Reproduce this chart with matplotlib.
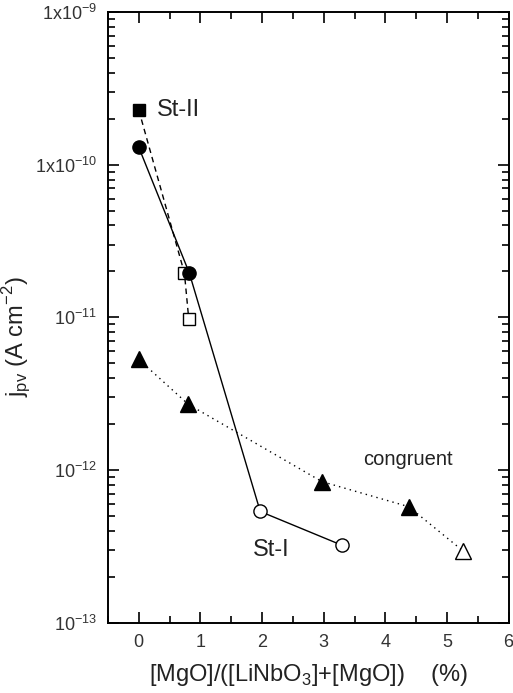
import matplotlib
matplotlib.use("Agg")
import matplotlib.pyplot as plt
from matplotlib.ticker import FixedLocator, LogLocator, MultipleLocator, NullFormatter

plt.rcParams['font.family'] = ['Liberation Sans', 'DejaVu Sans']
plt.rcParams['mathtext.fontset'] = 'custom'
plt.rcParams['mathtext.rm'] = 'Liberation Sans'

# St-II (stoichiometric, set II)
st2_x = [0.0, 0.74, 0.81]
st2_y = [2.28e-10, 1.95e-11, 9.8e-12]
st2_filled = [True, False, False]

# St-I (stoichiometric, set I)
st1_x = [0.0, 0.82, 1.97, 3.30]
st1_y = [1.30e-10, 1.95e-11, 5.35e-13, 3.21e-13]
st1_filled = [True, True, False, False]

# congruent crystals
cg_x = [0.0, 0.80, 2.97, 4.38, 5.26]
cg_y = [5.3e-12, 2.7e-12, 8.4e-13, 5.75e-13, 2.95e-13]
cg_filled = [True, True, True, True, False]

y_ticks = [1e-13, 1e-12, 1e-11, 1e-10, 1e-9]
y_tick_labels = [r'10$^{-13}$', r'10$^{-12}$', r'10$^{-11}$',
                 r'1x10$^{-10}$', r'1x10$^{-9}$']
x_ticks = [0, 1, 2, 3, 4, 5, 6]

fig = plt.figure(figsize=(5.13, 6.93), dpi=100)
ax = fig.add_axes([0.2105, 0.1015, 0.781, 0.881])
ax.set_yscale('log')


def draw_series(xs, ys, filled, marker, ms, ls):
    ax.plot(xs, ys, color='black', linestyle=ls, linewidth=1.0, zorder=1)
    for x, y, f in zip(xs, ys, filled):
        ax.plot([x], [y], marker=marker, markersize=ms,
                markerfacecolor='black' if f else 'white',
                markeredgecolor='black', markeredgewidth=1.0,
                linestyle='none', zorder=3)


draw_series(st2_x, st2_y, st2_filled, 's', 8.5, (0, (4, 3)))
draw_series(st1_x, st1_y, st1_filled, 'o', 9.5, '-')
draw_series(cg_x, cg_y, cg_filled, '^', 12, (0, (1, 3)))

ax.set_xlim(-0.5, 6)
ax.set_ylim(1e-13, 1e-9)

ax.xaxis.set_major_locator(FixedLocator(x_ticks))
ax.xaxis.set_minor_locator(MultipleLocator(0.5))
ax.set_xticklabels([str(t) for t in x_ticks])
ax.yaxis.set_major_locator(FixedLocator(y_ticks))
ax.set_yticklabels(y_tick_labels)
ax.yaxis.set_minor_locator(LogLocator(base=10, subs=range(2, 10)))
ax.yaxis.set_minor_formatter(NullFormatter())

ax.tick_params(which='both', direction='in', top=True, right=True,
               labelsize=13, width=1.2, colors='black', labelcolor='#333333')
ax.tick_params(which='major', length=8, pad=8)
ax.tick_params(which='minor', length=5)
for s in ax.spines.values():
    s.set_linewidth(1.4)

ax.text(0.3, 2.28e-10, 'St-II', fontsize=17, va='center', ha='left', color='#222222')
ax.text(1.85, 3.0e-13, 'St-I', fontsize=17, va='center', ha='left', color='#222222')
ax.text(4.36, 1.18e-12, 'congruent', fontsize=14.5, va='center', ha='center', color='#222222')

ax.set_xlabel(r'[MgO]/([LiNbO$_3$]+[MgO])    (%)', fontsize=17, color='#222222')
ax.xaxis.set_label_coords(0.5, -0.064)
ax.set_ylabel(r'j$_{\rm pv}$ (A cm$^{-2}$)', fontsize=17, color='#222222')
ax.yaxis.set_label_coords(-0.187, 0.468)

fig.savefig('out.png', dpi=100)
